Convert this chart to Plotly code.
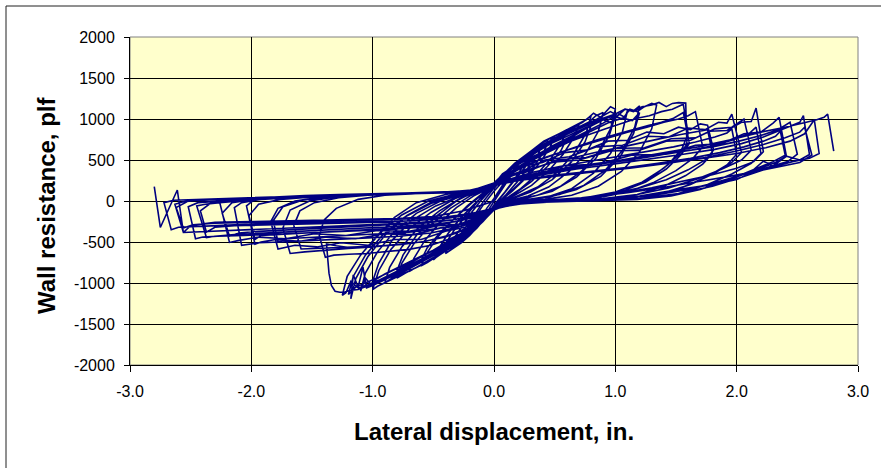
import plotly.graph_objects as go

# ---------------- data ----------------
# Lateral displacement (in.) and wall resistance (plf), one list pair per cycle
c00_disp = [-2.80, -2.75, -2.61, -2.56, -2.50, -2.30, -2.00, -1.60, -1.20, -0.80, -0.50, -0.25, -0.08, 0.00]
c00_force = [175, -323, 134, -384, -300, -260, -250, -240, -230, -215, -190, -120, -40, 0]

c01_disp = [0, 0.05, 0.10, 0.15, 0.11, 0.06, 0, -0.05, -0.10, -0.15, -0.11, -0.06, 0]
c01_force = [0, 110, 230, 330, 240, 120, -10, -120, -230, -320, -220, -90, 30]

c02_disp = [0, 0.07, 0.14, 0.22, 0.30, 0.26, 0.18, 0.09, 0, -0.07, -0.14, -0.22, -0.30, -0.26, -0.18, -0.09, 0]
c02_force = [30, 190, 350, 470, 580, 470, 290, 110, -50, -200, -330, -440, -530, -420, -240, -50, 120]

c03_disp = [0, 0.08, 0.16, 0.24, 0.30, 0.26, 0.17, 0.08, 0, -0.08, -0.16, -0.24, -0.30, -0.26, -0.17, -0.08, 0]
c03_force = [120, 250, 360, 450, 520, 420, 250, 80, -60, -200, -320, -410, -480, -370, -190, 10, 150]

e01_disp = [0, 0.06, 0.13, 0.20, 0.27, 0.34, 0.40, 0.36, 0.28, 0.19, 0.10, 0.03, 0,
            -0.06, -0.13, -0.20, -0.27, -0.34, -0.40, -0.36, -0.28, -0.19, -0.10, -0.03, 0]
e01_force = [160, 270, 380, 470, 560, 620, 690, 560, 400, 230, 80, -20, -70,
             -190, -310, -420, -510, -580, -640, -520, -340, -150, 20, 130, 180]

c04_disp = [0, 0.08, 0.16, 0.25, 0.34, 0.40, 0.45, 0.41, 0.33, 0.22, 0.11, 0,
            -0.08, -0.16, -0.25, -0.34, -0.40, -0.45, -0.41, -0.33, -0.22, -0.11, 0]
c04_force = [150, 300, 420, 530, 620, 680, 730, 600, 420, 230, 70, -80,
             -230, -350, -460, -560, -610, -660, -540, -360, -160, 40, 190]

e02_disp = [0, 0.07, 0.15, 0.23, 0.31, 0.39, 0.45, 0.50, 0.46, 0.38, 0.27, 0.15, 0.05, 0,
            -0.07, -0.15, -0.23, -0.31, -0.39, -0.45, -0.50, -0.46, -0.38, -0.27, -0.15, -0.05, 0]
e02_force = [180, 300, 420, 510, 600, 670, 720, 780, 650, 470, 290, 120, 0, -70,
             -200, -330, -430, -530, -600, -650, -720, -590, -400, -200, -20, 110, 190]

c05_disp = [0, 0.08, 0.17, 0.27, 0.37, 0.46, 0.54, 0.60, 0.56, 0.47, 0.35, 0.22, 0.10, 0,
            -0.09, -0.18, -0.28, -0.38, -0.47, -0.55, -0.60, -0.56, -0.47, -0.35, -0.22, -0.10, 0]
c05_force = [190, 330, 460, 570, 680, 760, 820, 870, 720, 520, 320, 150, 30, -90,
             -240, -370, -490, -590, -680, -750, -790, -650, -450, -250, -60, 90, 210]

c06_disp = [0, 0.10, 0.20, 0.30, 0.40, 0.50, 0.60, 0.55, 0.44, 0.31, 0.18, 0.06, 0,
            -0.10, -0.20, -0.30, -0.40, -0.50, -0.60, -0.55, -0.44, -0.31, -0.18, -0.06, 0]
c06_force = [210, 310, 410, 500, 590, 670, 760, 610, 420, 240, 100, 0, -80,
             -210, -330, -440, -540, -630, -720, -570, -380, -190, -20, 120, 200]

e03_disp = [0, 0.08, 0.17, 0.27, 0.37, 0.47, 0.56, 0.64, 0.70, 0.66, 0.57, 0.45, 0.31, 0.17, 0.05, 0,
            -0.08, -0.17, -0.27, -0.37, -0.47, -0.56, -0.64, -0.70, -0.66, -0.57, -0.45, -0.31, -0.17, -0.05, 0]
e03_force = [190, 320, 440, 550, 660, 740, 810, 880, 930, 780, 570, 370, 190, 70, -20, -90,
             -230, -360, -470, -580, -670, -750, -810, -860, -700, -480, -270, -80, 60, 150, 200]

c07_disp = [0, 0.09, 0.19, 0.30, 0.42, 0.53, 0.64, 0.73, 0.80, 0.76, 0.66, 0.52, 0.36, 0.20, 0.07, 0,
            -0.09, -0.19, -0.30, -0.42, -0.53, -0.64, -0.73, -0.80, -0.76, -0.66, -0.52, -0.36, -0.20, -0.07, 0]
c07_force = [200, 340, 470, 590, 700, 790, 880, 960, 1040, 830, 580, 350, 170, 60, -20, -100,
             -250, -390, -510, -620, -720, -810, -880, -940, -760, -520, -290, -90, 60, 150, 210]

c08_disp = [0, 0.10, 0.22, 0.35, 0.48, 0.60, 0.70, 0.80, 0.75, 0.64, 0.48, 0.30, 0.14, 0,
            -0.10, -0.22, -0.35, -0.48, -0.60, -0.70, -0.80, -0.75, -0.64, -0.48, -0.30, -0.14, 0]
c08_force = [210, 320, 430, 550, 650, 740, 830, 920, 720, 480, 260, 110, 20, -90,
             -230, -360, -480, -590, -680, -760, -850, -660, -420, -190, 10, 130, 200]

e04_disp = [0, 0.09, 0.19, 0.30, 0.42, 0.54, 0.64, 0.72, 0.78, 0.84, 0.90, 0.86, 0.76, 0.62, 0.45, 0.28, 0.12, 0,
            -0.09, -0.19, -0.30, -0.42, -0.54, -0.64, -0.74, -0.82, -0.90, -0.86, -0.76, -0.62, -0.45, -0.28, -0.12, 0]
e04_force = [200, 330, 450, 570, 680, 780, 860, 920, 960, 1040, 1080, 850, 590, 360, 170, 60, 0, -100,
             -240, -370, -490, -600, -700, -780, -860, -920, -1000, -810, -560, -320, -120, 30, 130, 200]

c09_disp = [0, 0.07, 0.14, 0.27, 0.41, 0.55, 0.68, 0.76, 0.82, 0.88, 0.96, 1.00, 0.96, 0.86, 0.72, 0.55, 0.36, 0.18, 0.06, 0,
            -0.10, -0.20, -0.34, -0.47, -0.61, -0.75, -0.89, -0.96, -1.00, -0.95, -0.85, -0.70, -0.52, -0.32, -0.14, 0]
c09_force = [200, 330, 400, 570, 730, 830, 930, 990, 1070, 1020, 1150, 1120, 880, 600, 360, 180, 70, 20, -30, -100,
             -260, -390, -546, -680, -789, -890, -990, -1040, -1080, -850, -590, -340, -140, 30, 130, 210]

c10_disp = [0, 0.10, 0.22, 0.36, 0.50, 0.64, 0.78, 0.90, 1.00, 0.95, 0.84, 0.68, 0.48, 0.28, 0.10, 0,
            -0.10, -0.22, -0.36, -0.50, -0.64, -0.78, -0.90, -1.00, -0.95, -0.84, -0.68, -0.48, -0.28, -0.10, 0]
c10_force = [210, 310, 420, 540, 650, 750, 860, 950, 1040, 800, 520, 290, 120, 40, -10, -80,
             -220, -350, -480, -600, -700, -800, -890, -980, -760, -480, -240, -60, 60, 130, 200]

e05_disp = [0, 0.10, 0.22, 0.35, 0.48, 0.60, 0.72, 0.82, 0.90, 0.97, 1.03, 1.08, 1.10, 1.06, 0.96, 0.82, 0.64, 0.44, 0.24, 0.08, 0,
            -0.10, -0.22, -0.35, -0.48, -0.60, -0.72, -0.84, -0.94, -1.02, -1.06, -1.10, -1.06, -0.96, -0.82, -0.64, -0.44, -0.24, -0.08, 0]
e05_force = [200, 320, 440, 560, 670, 760, 850, 930, 990, 950, 1060, 1020, 1100, 850, 580, 340, 150, 50, 10, -30, -100,
             -250, -380, -500, -610, -710, -800, -890, -960, -1010, -940, -1100, -880, -620, -370, -150, 0, 90, 150, 210]

c11_disp = [0, 0.08, 0.18, 0.30, 0.44, 0.58, 0.72, 0.85, 0.96, 1.02, 1.08, 1.15, 1.20, 1.16, 1.06, 0.92, 0.74, 0.54, 0.33, 0.14, 0,
            -0.10, -0.22, -0.36, -0.50, -0.64, -0.78, -0.90, -1.00, -1.05, -1.08, -1.12, -1.16, -1.18, -1.14, -1.04, -0.90, -0.72, -0.50, -0.28, -0.10, 0]
c11_force = [200, 320, 440, 560, 690, 800, 900, 1000, 1090, 1040, 1120, 1100, 1160, 900, 620, 380, 190, 80, 30, -10, -100,
             -250, -380, -520, -650, -760, -870, -960, -1030, -1060, -808, -1050, -900, -1193, -950, -680, -420, -180, 0, 100, 150, 220]

c12_disp = [0, 0.10, 0.23, 0.37, 0.52, 0.67, 0.82, 0.95, 1.06, 1.14, 1.20, 1.15, 1.04, 0.88, 0.68, 0.46, 0.24, 0.08, 0,
            -0.10, -0.23, -0.37, -0.52, -0.67, -0.82, -0.95, -1.06, -1.14, -1.20, -1.16, -1.06, -0.92, -0.74, -0.52, -0.30, -0.12, 0]
c12_force = [220, 320, 430, 540, 650, 760, 870, 960, 1010, 980, 1080, 820, 540, 300, 140, 50, 10, -30, -100,
             -240, -370, -500, -620, -730, -840, -930, -1000, -1050, -1140, -920, -660, -420, -200, -30, 80, 140, 210]

e06_disp = [0, 0.09, 0.20, 0.33, 0.47, 0.61, 0.75, 0.88, 0.98, 1.06, 1.12, 1.18, 1.24, 1.30, 1.34, 1.30, 1.20, 1.05, 0.86, 0.64, 0.42, 0.20, 0.06, 0,
            -0.10, -0.22, -0.36, -0.50, -0.64, -0.78, -0.92, -1.04, -1.12, -1.18, -1.22, -1.25, -1.21, -1.10, -0.95, -0.76, -0.54, -0.30, -0.10, 0]
e06_force = [210, 330, 450, 580, 700, 800, 890, 980, 1040, 1000, 1120, 1090, 1150, 1190, 1170, 880, 600, 360, 180, 70, 20, -10, -40, -110,
             -260, -390, -520, -650, -760, -860, -950, -1020, -1060, -980, -1120, -1150, -920, -660, -400, -170, 0, 90, 150, 210]

c13_disp = [0, 0.09, 0.20, 0.33, 0.47, 0.61, 0.75, 0.88, 1.00, 1.08, 1.15, 1.22, 1.30, 1.36, 1.42, 1.47, 1.52, 1.58, 1.59,
            1.52, 1.40, 1.22, 1.00, 0.75, 0.50, 0.25, 0.08, 0,
            -0.10, -0.22, -0.36, -0.50, -0.64, -0.78, -0.92, -1.04, -1.12, -1.19, -1.23, -1.27, -1.31, -1.34, -1.36, -1.37, -1.38,
            -1.30, -1.18, -1.04, -0.94, -0.82, -0.64, -0.40, -0.18, 0]
c13_force = [210, 330, 450, 580, 710, 820, 910, 1000, 1060, 1120, 1090, 1150, 1170, 1202, 1150, 1190, 1200, 1194, 690,
             560, 400, 230, 110, 40, 10, -10, -40, -110,
             -260, -390, -530, -660, -770, -880, -970, -1040, -1080, -1092, -1110, -1112, -1100, -1031, -880, -708, -525,
             -545, -570, -560, -400, -200, -20, 80, 130, 220]

c14_disp = [0, 0.08, 0.18, 0.30, 0.44, 0.60, 0.76, 0.92, 1.06, 1.18, 1.28, 1.38, 1.47, 1.56, 1.60,
            1.55, 1.44, 1.28, 1.08, 0.84, 0.58, 0.32, 0.12, 0,
            -0.10, -0.22, -0.36, -0.52, -0.70, -0.88, -1.05, -1.20, -1.32, -1.39, -1.44,
            -1.40, -1.30, -1.12, -0.90, -0.65, -0.40, -0.18, 0]
c14_force = [220, 330, 430, 530, 620, 710, 800, 880, 950, 1010, 1040, 1090, 1120, 1180, 820,
             640, 450, 270, 130, 50, 15, -5, -40, -110,
             -240, -360, -460, -540, -590, -620, -640, -650, -660, -687, -420,
             -230, -90, 20, 70, 90, 105, 130, 200]

c15_disp = [0, 0.10, 0.22, 0.36, 0.52, 0.68, 0.84, 1.00, 1.14, 1.27, 1.38, 1.48, 1.56, 1.61,
            1.54, 1.42, 1.25, 1.04, 0.80, 0.55, 0.30, 0.10, 0,
            -0.10, -0.22, -0.38, -0.56, -0.76, -0.96, -1.16, -1.34, -1.50, -1.59, -1.65,
            -1.60, -1.48, -1.28, -1.04, -0.78, -0.52, -0.26, -0.08, 0]
c15_force = [200, 300, 400, 490, 580, 660, 740, 810, 870, 920, 960, 1010, 1080, 700,
             560, 390, 230, 110, 40, 10, -10, -40, -100,
             -220, -330, -420, -490, -530, -550, -560, -570, -575, -586, -300,
             -120, -20, 40, 70, 85, 95, 110, 150, 200]

e07_disp = [0, 0.10, 0.24, 0.40, 0.58, 0.76, 0.94, 1.10, 1.26, 1.40, 1.52, 1.60, 1.66, 1.72,
            1.64, 1.50, 1.32, 1.10, 0.86, 0.60, 0.34, 0.12, 0,
            -0.10, -0.24, -0.40, -0.60, -0.80, -1.00, -1.20, -1.40, -1.56, -1.68, -1.74,
            -1.68, -1.52, -1.30, -1.04, -0.76, -0.48, -0.20, 0]
e07_force = [200, 310, 420, 520, 610, 690, 770, 840, 900, 960, 1000, 1040, 1090, 660,
             520, 370, 230, 110, 40, 10, -10, -40, -100,
             -230, -350, -440, -500, -530, -560, -580, -600, -620, -640, -330,
             -110, 0, 50, 75, 90, 100, 130, 200]

c16_disp = [0, 0.10, 0.24, 0.40, 0.58, 0.76, 0.94, 1.10, 1.26, 1.40, 1.52, 1.62, 1.70, 1.76, 1.81,
            1.74, 1.60, 1.42, 1.20, 0.96, 0.70, 0.44, 0.20, 0.06, 0,
            -0.10, -0.24, -0.40, -0.60, -0.82, -1.04, -1.26, -1.46, -1.64, -1.78, -1.84,
            -1.78, -1.64, -1.44, -1.20, -0.94, -0.66, -0.38, -0.14, 0]
c16_force = [200, 300, 420, 470, 590, 620, 730, 740, 840, 820, 900, 870, 940, 925, 620,
             500, 380, 260, 160, 80, 30, 5, -20, -50, -100,
             -210, -320, -370, -470, -470, -540, -510, -560, -540, -586, -250,
             -90, 0, 45, 70, 85, 95, 105, 130, 200]

c17_disp = [0, 0.12, 0.28, 0.46, 0.66, 0.86, 1.06, 1.24, 1.40, 1.54, 1.66, 1.76, 1.80,
            1.72, 1.58, 1.40, 1.18, 0.94, 0.68, 0.40, 0.16, 0,
            -0.12, -0.28, -0.48, -0.70, -0.94, -1.18, -1.40, -1.60, -1.72, -1.78, -1.82,
            -1.74, -1.58, -1.36, -1.10, -0.82, -0.54, -0.26, -0.08, 0]
c17_force = [200, 290, 380, 460, 530, 600, 660, 720, 770, 810, 840, 870, 580,
             450, 310, 180, 80, 30, 5, -10, -40, -90,
             -190, -280, -340, -380, -400, -420, -440, -450, -460, -500, -240,
             -70, 10, 50, 75, 90, 100, 115, 150, 190]

c18_disp = [0, 0.10, 0.24, 0.42, 0.62, 0.84, 1.06, 1.26, 1.44, 1.60, 1.74, 1.85, 1.92, 1.96, 2.04,
            1.96, 1.82, 1.62, 1.38, 1.12, 0.84, 0.56, 0.30, 0.10, 0,
            -0.10, -0.25, -0.44, -0.66, -0.90, -1.14, -1.38, -1.60, -1.80, -1.92, -1.97, -2.04,
            -1.98, -1.84, -1.62, -1.36, -1.08, -0.80, -0.50, -0.22, -0.06, 0]
c18_force = [190, 300, 370, 500, 540, 660, 680, 790, 780, 890, 870, 960, 950, 1060, 590,
             470, 340, 200, 90, 35, 10, 0, -15, -50, -100,
             -200, -300, -330, -410, -400, -460, -440, -490, -470, -500, -526, -60,
             10, 40, 60, 75, 85, 95, 105, 120, 160, 200]

c19_disp = [0, 0.14, 0.32, 0.54, 0.78, 1.02, 1.26, 1.48, 1.66, 1.82, 1.92, 1.96, 2.00,
            1.92, 1.76, 1.56, 1.32, 1.04, 0.76, 0.48, 0.22, 0,
            -0.14, -0.32, -0.54, -0.80, -1.06, -1.32, -1.56, -1.78, -1.92, -1.97, -2.02,
            -1.94, -1.76, -1.50, -1.20, -0.90, -0.60, -0.30, -0.10, 0]
c19_force = [200, 270, 350, 420, 480, 540, 600, 660, 720, 780, 830, 880, 570,
             440, 300, 170, 70, 25, 5, -10, -35, -90,
             -180, -250, -300, -330, -350, -370, -390, -410, -420, -470, -180,
             -40, 20, 50, 70, 85, 95, 110, 140, 190]

e08_disp = [0, 0.12, 0.30, 0.52, 0.76, 1.00, 1.24, 1.46, 1.66, 1.82, 1.96, 2.06, 2.12,
            2.04, 1.88, 1.68, 1.44, 1.18, 0.90, 0.60, 0.30, 0.10, 0,
            -0.12, -0.30, -0.52, -0.78, -1.04, -1.30, -1.54, -1.76, -1.94, -2.08, -2.14,
            -2.08, -1.92, -1.68, -1.40, -1.10, -0.80, -0.50, -0.20, 0]
e08_force = [190, 310, 380, 500, 530, 640, 650, 760, 770, 880, 900, 1000, 620,
             500, 390, 270, 160, 80, 30, 5, -15, -45, -100,
             -210, -320, -390, -430, -450, -470, -490, -500, -510, -540, -80,
             -20, 20, 45, 65, 80, 90, 100, 130, 190]

c20_disp = [0, 0.10, 0.26, 0.46, 0.70, 0.96, 1.20, 1.42, 1.62, 1.78, 1.92, 2.04, 2.12, 2.16, 2.22,
            2.14, 2.00, 1.80, 1.56, 1.30, 1.02, 0.72, 0.42, 0.16, 0,
            -0.10, -0.26, -0.46, -0.70, -0.96, -1.22, -1.48, -1.72, -1.94, -2.10, -2.18, -2.26,
            -2.20, -2.04, -1.82, -1.56, -1.28, -0.98, -0.68, -0.38, -0.14, 0]
c20_force = [190, 290, 350, 470, 500, 610, 620, 730, 740, 850, 860, 960, 970, 1133, 600,
             480, 400, 320, 240, 160, 90, 40, 10, -30, -100,
             -190, -280, -300, -370, -360, -420, -400, -460, -440, -480, -505, -20,
             20, 30, 50, 65, 80, 90, 95, 110, 140, 190]

c21_disp = [0, 0.16, 0.36, 0.60, 0.86, 1.12, 1.38, 1.62, 1.82, 1.98, 2.10, 2.16, 2.20,
            2.12, 1.96, 1.76, 1.52, 1.24, 0.94, 0.62, 0.32, 0.10, 0,
            -0.14, -0.34, -0.58, -0.86, -1.14, -1.42, -1.70, -1.94, -2.10, -2.18, -2.24,
            -2.16, -1.98, -1.72, -1.42, -1.10, -0.78, -0.46, -0.18, 0]
c21_force = [190, 260, 330, 390, 450, 500, 560, 620, 680, 750, 820, 900, 580,
             460, 330, 200, 90, 30, 10, 0, -20, -45, -90,
             -170, -230, -270, -290, -310, -330, -350, -370, -390, -430, -150,
             -20, 20, 45, 65, 80, 90, 100, 125, 180]

c22_disp = [0, 0.14, 0.34, 0.58, 0.86, 1.14, 1.42, 1.66, 1.88, 2.06, 2.20, 2.30, 2.35, 2.41,
            2.32, 2.16, 1.96, 1.74, 1.50, 1.22, 0.92, 0.60, 0.30, 0.10, 0,
            -0.12, -0.30, -0.54, -0.82, -1.10, -1.38, -1.66, -1.92, -2.14, -2.30, -2.37, -2.45,
            -2.38, -2.26, -2.06, -1.80, -1.50, -1.18, -0.86, -0.54, -0.24, -0.06, 0]
c22_force = [180, 270, 320, 430, 450, 560, 570, 680, 700, 820, 840, 950, 1020, 546,
             470, 380, 270, 160, 80, 30, 10, 0, -15, -45, -100,
             -180, -250, -290, -310, -330, -350, -370, -390, -410, -430, -445, -60,
             -40, -20, 10, 40, 60, 75, 85, 95, 110, 150, 190]

c23_disp = [0, 0.20, 0.45, 0.75, 1.05, 1.35, 1.62, 1.86, 2.06, 2.22, 2.32, 2.36, 2.40,
            2.30, 2.12, 1.92, 1.70, 1.46, 1.18, 0.88, 0.56, 0.26, 0.08, 0,
            -0.16, -0.38, -0.66, -0.96, -1.28, -1.60, -1.90, -2.14, -2.30, -2.37, -2.42,
            -2.32, -2.12, -1.86, -1.56, -1.24, -0.90, -0.56, -0.24, 0]
c23_force = [190, 250, 300, 350, 400, 460, 520, 590, 660, 730, 790, 850, 560,
             480, 370, 250, 140, 60, 20, 5, -5, -20, -50, -90,
             -160, -210, -240, -260, -270, -280, -290, -300, -320, -380, -120,
             -10, 10, 35, 55, 70, 85, 95, 115, 180]

e09_disp = [0, 0.16, 0.38, 0.66, 0.96, 1.26, 1.54, 1.80, 2.02, 2.20, 2.34, 2.44, 2.50,
            2.42, 2.26, 2.06, 1.84, 1.60, 1.32, 1.00, 0.66, 0.34, 0.10, 0,
            -0.14, -0.34, -0.60, -0.90, -1.20, -1.50, -1.80, -2.06, -2.28, -2.40, -2.46, -2.52,
            -2.44, -2.26, -2.00, -1.70, -1.38, -1.04, -0.70, -0.36, -0.10, 0]
e09_force = [180, 270, 350, 420, 480, 540, 600, 660, 730, 800, 870, 960, 570,
             480, 410, 320, 230, 140, 70, 25, 5, -10, -40, -100,
             -190, -260, -320, -350, -370, -390, -410, -420, -430, -440, -460, -70,
             -20, 0, 25, 50, 65, 80, 90, 100, 130, 190]

c24_disp = [0, 0.16, 0.40, 0.68, 0.98, 1.28, 1.56, 1.82, 2.04, 2.22, 2.36, 2.46, 2.52, 2.55, 2.60,
            2.52, 2.41, 2.30, 2.22, 2.10, 2.00, 1.80, 1.53, 1.20, 0.86, 0.50, 0.20, 0,
            -0.14, -0.34, -0.60, -0.90, -1.22, -1.54, -1.84, -2.10, -2.30, -2.46, -2.56, -2.63,
            -2.56, -2.42, -2.20, -1.94, -1.64, -1.32, -1.00, -0.68, -0.36, -0.12, 0]
c24_force = [190, 250, 320, 390, 450, 510, 570, 630, 700, 780, 860, 920, 960, 1040, 567,
             500, 546, 430, 485, 330, 263, 200, 142, 60, 20, 0, -30, -100,
             -170, -230, -260, -280, -300, -320, -340, -350, -360, -370, -384, -40,
             -10, 10, 20, 35, 55, 70, 80, 90, 100, 130, 190]

c25_disp = [0, 0.20, 0.48, 0.80, 1.12, 1.44, 1.74, 2.00, 2.22, 2.40, 2.52, 2.56, 2.62,
            2.52, 2.36, 2.16, 1.94, 1.70, 1.42, 1.10, 0.76, 0.42, 0.14, 0,
            -0.18, -0.42, -0.72, -1.04, -1.38, -1.72, -2.04, -2.30, -2.48, -2.56, -2.62,
            -2.52, -2.30, -2.02, -1.70, -1.36, -1.02, -0.68, -0.34, -0.10, 0]
c25_force = [190, 250, 300, 350, 400, 460, 530, 610, 690, 770, 840, 900, 560,
             470, 420, 360, 300, 240, 170, 100, 40, 5, -40, -90,
             -150, -200, -220, -230, -240, -250, -260, -270, -290, -330, -80,
             0, 15, 30, 50, 65, 80, 90, 100, 130, 190]

e10_disp = [0, 0.20, 0.46, 0.78, 1.10, 1.42, 1.72, 2.00, 2.24, 2.44, 2.56, 2.64, 2.68,
            2.60, 2.46, 2.26, 2.04, 1.80, 1.52, 1.20, 0.86, 0.50, 0.18, 0,
            -0.16, -0.40, -0.70, -1.00, -1.34, -1.68, -2.00, -2.28, -2.48, -2.60, -2.66, -2.72,
            -2.64, -2.44, -2.16, -1.84, -1.50, -1.14, -0.78, -0.42, -0.12, 0]
e10_force = [190, 250, 310, 360, 410, 460, 520, 580, 650, 730, 820, 990, 580,
             520, 480, 400, 290, 180, 90, 30, 5, -10, -40, -90,
             -160, -210, -240, -250, -260, -270, -280, -300, -310, -320, -350, -20,
             10, 20, 30, 50, 65, 80, 90, 100, 130, 190]

c26_disp = [0, 0.18, 0.44, 0.74, 1.06, 1.38, 1.68, 1.96, 2.20, 2.40, 2.56, 2.66, 2.72, 2.75, 2.80]
c26_force = [190, 260, 340, 420, 500, 580, 660, 750, 840, 900, 950, 990, 1020, 1060, 607]

cycles_disp = [c00_disp, c01_disp, c02_disp, c03_disp, e01_disp, c04_disp, e02_disp, c05_disp,
               c06_disp, e03_disp, c07_disp, c08_disp, e04_disp, c09_disp, c10_disp, e05_disp,
               c11_disp, c12_disp, e06_disp, c13_disp, c14_disp, c15_disp, e07_disp, c16_disp,
               c17_disp, c18_disp, c19_disp, e08_disp, c20_disp, c21_disp, c22_disp, c23_disp,
               e09_disp, c24_disp, c25_disp, e10_disp, c26_disp]
cycles_force = [c00_force, c01_force, c02_force, c03_force, e01_force, c04_force, e02_force, c05_force,
                c06_force, e03_force, c07_force, c08_force, e04_force, c09_force, c10_force, e05_force,
                c11_force, c12_force, e06_force, c13_force, c14_force, c15_force, e07_force, c16_force,
                c17_force, c18_force, c19_force, e08_force, c20_force, c21_force, c22_force, c23_force,
                e09_force, c24_force, c25_force, e10_force, c26_force]

x_tick_vals = [-3, -2, -1, 0, 1, 2, 3]
x_tick_labels = ["-3.0", "-2.0", "-1.0", "0.0", "1.0", "2.0", "3.0"]
y_tick_vals = [-2000, -1500, -1000, -500, 0, 500, 1000, 1500, 2000]
y_tick_labels = ["-2000", "-1500", "-1000", "-500", "0", "500", "1000", "1500", "2000"]

x_title = "Lateral displacement, in."
y_title = "Wall resistance, plf"

# ---------------- figure ----------------
W, H = 881, 468
L, R, T, B = 130, 858, 37, 365   # plot area in pixels

def px_x(px):
    return (px - L) / (R - L)

def px_y(py):
    return (B - py) / (B - T)

disp_all = []
force_all = []
for dx, fy in zip(cycles_disp, cycles_force):
    disp_all.extend(dx)
    force_all.extend(fy)

FONT = "Liberation Sans, Arial, sans-serif"

fig = go.Figure()
fig.add_trace(go.Scatter(x=disp_all, y=force_all, mode="lines",
                         line=dict(color="#000080", width=1.6),
                         showlegend=False, hoverinfo="skip"))

fig.update_layout(
    width=W, height=H,
    margin=dict(l=L, r=W - R, t=T, b=H - B, pad=0),
    paper_bgcolor="white",
    plot_bgcolor="#FFFFCC",
    font=dict(family=FONT, size=16, color="black"),
    showlegend=False,
    xaxis=dict(range=[-3, 3], tickvals=x_tick_vals, ticktext=x_tick_labels,
               showgrid=True, gridcolor="black", gridwidth=1,
               zeroline=False, showline=True, linecolor="black", linewidth=1,
               ticks="outside", ticklen=6, tickcolor="black",
               tickfont=dict(family=FONT, size=16, color="black"),
               ticklabelstandoff=6),
    yaxis=dict(range=[-2000, 2000], tickvals=y_tick_vals, ticktext=y_tick_labels,
               showgrid=True, gridcolor="black", gridwidth=1,
               zeroline=False, showline=True, linecolor="black", linewidth=1,
               ticks="outside", ticklen=5, tickcolor="black",
               tickfont=dict(family=FONT, size=16, color="black"),
               ticklabelstandoff=6),
    shapes=[
        dict(type="rect", xref="paper", yref="paper",
             x0=0, x1=1, y0=0, y1=1, line=dict(color="#808080", width=1),
             fillcolor="rgba(0,0,0,0)", layer="below"),
        dict(type="rect", xref="paper", yref="paper",
             x0=px_x(6), x1=px_x(W + 10), y0=px_y(H + 10), y1=px_y(6),
             line=dict(color="#202020", width=1), fillcolor="rgba(0,0,0,0)"),
    ],
    annotations=[
        dict(text="<b>" + x_title + "</b>", xref="paper", yref="paper",
             x=px_x(494), y=px_y(431), xanchor="center", yanchor="middle",
             showarrow=False, font=dict(family=FONT, size=24, color="black")),
        dict(text="<b>" + y_title + "</b>", xref="paper", yref="paper",
             x=px_x(46), y=px_y(205), xanchor="center", yanchor="middle",
             textangle=-90, showarrow=False,
             font=dict(family=FONT, size=24, color="black")),
    ],
)

fig.write_html("out.html")
